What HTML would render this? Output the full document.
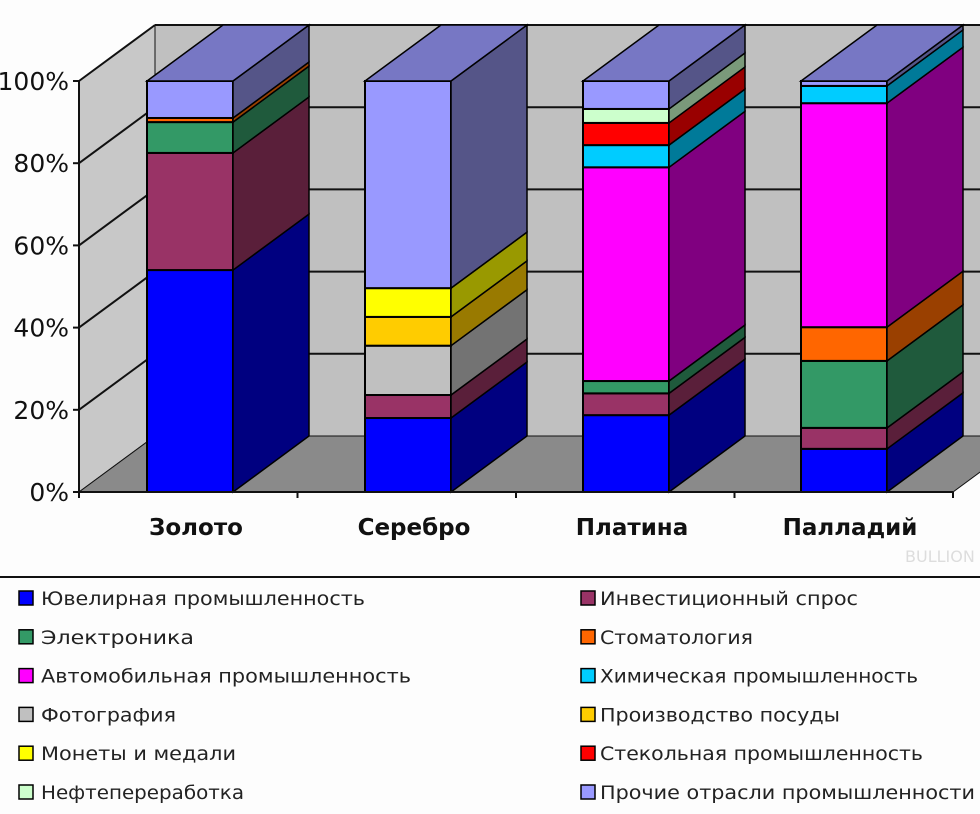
<!DOCTYPE html>
<html><head><meta charset="utf-8"><style>html,body{margin:0;padding:0;background:#fff;width:980px;height:814px;overflow:hidden}svg{display:block}</style></head>
<body>
<svg id="chart" width="980" height="814" viewBox="0 0 980 814" xmlns="http://www.w3.org/2000/svg" font-family="'DejaVu Sans','Liberation Sans',sans-serif">
<rect x="0" y="0" width="980" height="814" fill="#fdfdfd"/>
<g id="walls"></g>
<g id="bars"></g>
<g id="axis"></g>
<line x1="0" y1="577" x2="980" y2="577" stroke="#111" stroke-width="2"/>
<g id="legend"></g>
<text x="905" y="562" font-size="16" fill="#ddd">BULLION</text>
</svg>
<script>
const categories = ["Золото","Серебро","Платина","Палладий"];
const seriesNames = ["Ювелирная промышленность","Инвестиционный спрос","Электроника","Стоматология","Автомобильная промышленность","Химическая промышленность","Фотография","Производство посуды","Монеты и медали","Стекольная промышленность","Нефтепереработка","Прочие отрасли промышленности"];
const jewelry = [54, 18, 18.7, 10.5];
const investment = [28.5, 5.6, 5.3, 5.1];
const electronics = [7.5, 0, 3, 16.3];
const dental = [1, 0, 0, 8.2];
const auto = [0, 0, 52, 54.5];
const chemical = [0, 0, 5.4, 4.2];
const photo = [0, 12, 0, 0];
const tableware = [0, 7, 0, 0];
const coins = [0, 7, 0, 0];
const glass = [0, 0, 5.4, 0];
const oil = [0, 0, 3.4, 0];
const other = [9, 50.4, 6.8, 1.2];
const yTicks = ["0%","20%","40%","60%","80%","100%"];

const series = [jewelry,investment,electronics,dental,auto,chemical,photo,tableware,coins,glass,oil,other];
const front = ["#0000ff","#993366","#339966","#ff6600","#ff00ff","#00ccff","#c0c0c0","#ffcc00","#ffff00","#ff0000","#ccffcc","#9999ff"];
const side  = ["#000080","#5a1f3a","#1f5a3c","#9a4000","#800080","#007a99","#737373","#997a00","#999900","#990000","#7a997a","#555588"];
const topc  = ["#0000c0","#7a2850","#287a50","#cc5200","#cc00cc","#00a3cc","#9a9a9a","#ccA300","#cccc00","#cc0000","#a3cca3","#7777c4"];

const NS="http://www.w3.org/2000/svg";
const X0=79, Y0=492, H=411, DX=76, DY=-56, BW=86;
const yS = v => Y0 - v/100*H;
const xS = i => 147 + i*218;
function el(tag, attrs, parent){const e=document.createElementNS(NS,tag);for(const k in attrs)e.setAttribute(k,attrs[k]);parent.appendChild(e);return e;}
const walls=document.getElementById('walls'), bars=document.getElementById('bars'), axis=document.getElementById('axis'), legend=document.getElementById('legend');
const pts=a=>a.map(p=>p.join(',')).join(' ');

let w=el('rect',{x:X0+DX,y:Y0-H+DY,width:980,height:H,fill:"#c0c0c0",stroke:"#111","stroke-width":1},walls);


w=el('polygon',{points:pts([[X0,Y0],[X0,Y0-H],[X0+DX,Y0-H+DY],[X0+DX,Y0+DY]]),fill:"#c8c8c8",stroke:"#111","stroke-width":1},walls);


w=el('polygon',{points:pts([[X0,Y0],[953,Y0],[953+DX,Y0+DY],[X0+DX,Y0+DY]]),fill:"#8a8a8a",stroke:"#111","stroke-width":1},walls);


yTicks.forEach((t,k)=>{
  const v=k*20, y=yS(v);
  if(k>0){
    const g1=el('line',{x1:X0,y1:y,x2:X0+DX,y2:y+DY,stroke:"#111","stroke-width":2},walls);
    
    
    const g2=el('line',{x1:X0+DX,y1:y+DY,x2:1030,y2:y+DY,stroke:"#111","stroke-width":2},walls);
    
    
  }
  const tk=el('line',{x1:X0-6,y1:y,x2:X0,y2:y,stroke:"#111","stroke-width":2},axis);
  
  
  const tx=el('text',{x:X0-10,y:y+9,"text-anchor":"end","font-size":25,fill:"#111"},axis);
  tx.textContent=t;
  
  
});
const ax=el('line',{x1:X0,y1:Y0-H,x2:X0,y2:Y0,stroke:"#111","stroke-width":2},axis);


const bx=el('line',{x1:X0,y1:Y0,x2:953,y2:Y0,stroke:"#111","stroke-width":2},axis);


[0,1,2,3,4].forEach(i=>{const x=X0+i*218.5;const t=el('line',{x1:x,y1:Y0,x2:x,y2:Y0+6,stroke:"#111","stroke-width":2},axis);

});

categories.forEach((c,i)=>{
  const x=xS(i);
  const g=el('g',{},bars);
  
  
  let cum=0, lastTop=-1;
  series.forEach((s,j)=>{
    const v=s[i]; if(!v) return;
    const y1=yS(cum), y2=yS(cum+v); cum+=v; lastTop=j;
    const f=el('rect',{x:x,y:y2,width:BW,height:y1-y2,fill:front[j],stroke:"#000","stroke-width":2},g);
    
    
    const sd=el('polygon',{points:pts([[x+BW,y1],[x+BW,y2],[x+BW+DX,y2+DY],[x+BW+DX,y1+DY]]),fill:side[j],stroke:"#000","stroke-width":1.5},g);
    
    
  });
  const yt=yS(cum);
  const tp=el('polygon',{points:pts([[x,yt],[x+BW,yt],[x+BW+DX,yt+DY],[x+DX,yt+DY]]),fill:topc[lastTop],stroke:"#000","stroke-width":1.5},g);
  
  
  const lb=el('text',{x:x+BW/2+6,y:535,"text-anchor":"middle","font-size":23,"font-weight":"bold",fill:"#111"},axis);
  lb.textContent=c;
  
  
});

const legendWidths=[324,258,153,153,370,318,135,240,195,323,203,375];
const colorsForLegend=["#0000ff","#993366","#339966","#ff6600","#ff00ff","#00ccff","#c0c0c0","#ffcc00","#ffff00","#ff0000","#ccffcc","#9999ff"];
seriesNames.forEach((n,j)=>{
  const col=j%2, row=Math.floor(j/2);
  const cy=598+row*38.8;
  const sx=col?581:19, tx=col?600:41;
  const g=el('g',{},legend);
  
  
  const r=el('rect',{x:sx,y:cy-7,width:14,height:14,fill:colorsForLegend[j],stroke:"#000","stroke-width":1.5},g);
  
  
  const t=el('text',{x:tx,y:cy+7,"font-size":19,fill:"#222",textLength:legendWidths[j],lengthAdjust:"spacingAndGlyphs"},g);
  t.textContent=n;
  
  
});
</script>
</body></html>
